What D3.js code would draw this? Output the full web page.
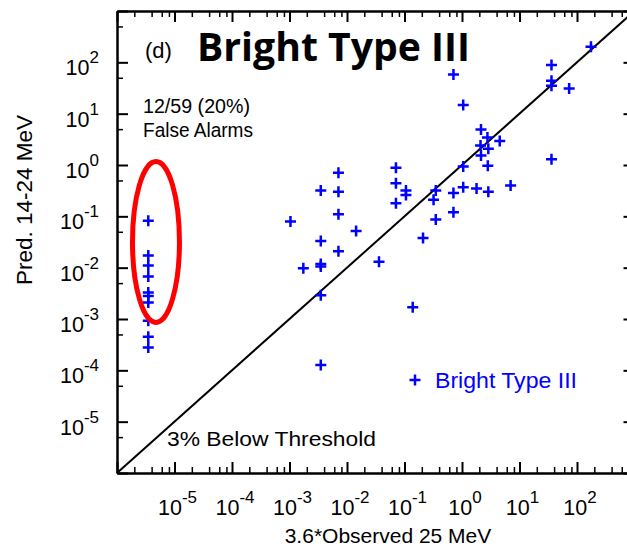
<!DOCTYPE html>
<html><head><meta charset="utf-8">
<script src="https://cdn.jsdelivr.net/npm/d3@7/dist/d3.min.js"></script>
<style>body{margin:0;background:#fff}svg{display:block}</style>
</head><body><svg id="c" width="627" height="550"></svg>
<script>
// ---- data ----
const seriesName = "Bright Type III";
const xTickExps = [-5, -4, -3, -2, -1, 0, 1, 2];
const yTickExps = [-5, -4, -3, -2, -1, 0, 1, 2];
// observed (x, scaled 3.6*Observed 25 MeV) and predicted (y, 14-24 MeV)
const obsX = [175, 36, 36, 36, 73, 0.71, 1.05, 2.14, 2.77, 2.10, 2.87, 4.53, 2.14, 2.81, 1.05, 36,
  1.05, 1.79, 2.87, 7.0, 0.71, 0.35, 0.32, 0.71, 0.35, 0.071, 0.071, 0.106, 0.106, 0.071,
  0.0071, 0.0071, 0.0035, 0.0071, 0.00104, 0.0144, 0.21, 0.0035, 0.0071, 0.00174, 0.0035,
  0.0035, 0.036, 0.0035, 0.139, 0.0035];
const predY = [202, 89, 44, 35, 31, 58, 14.8, 4.9, 3.44, 2.40, 2.07, 2.94, 1.53, 0.97, 0.93, 1.29,
  0.37, 0.35, 0.30, 0.40, 0.285, 0.32, 0.21, 0.12, 0.087, 0.88, 0.44, 0.32, 0.26, 0.18,
  0.71, 0.30, 0.32, 0.11, 0.079, 0.052, 0.038, 0.033, 0.021, 0.0097, 0.0118,
  0.0105, 0.0131, 0.0029, 0.0017, 0.000127];
// events with no observed enhancement (plotted at floor value)
const floorX = 3.5e-6;
const floorPredY = [0.082, 0.0173, 0.011, 0.0067, 0.0033, 0.0028, 0.0021, 0.00092, 0.00045, 0.00028];
// false-alarm ellipse bounds in data units [xmin, xmax, ymin, ymax]
const ellipseBounds = [1.86e-6, 1.22e-5, 8.55e-4, 1.17];
const diag = [1e-6, 1e3];

// ---- drawing ----
const svg = d3.select("#c");
const font = "'Liberation Sans', Arial, Helvetica, sans-serif";
const x = d3.scaleLog().domain([1e-6, 1e3]).range([117, 634.5]);
const y = d3.scaleLog().domain([1e-6, 1e3]).range([473, 11]);

const decades = d3.range(-6, 3);
const xMajor = d3.range(-6, 4).map(e => Math.pow(10, e));
const xMinor = [];
decades.forEach(e => [2, 4, 6, 8].forEach(m => xMinor.push(m * Math.pow(10, e))));
const yMinor = decades.map(e => 5 * Math.pow(10, e));

function styleAxis(g, w) {
  g.select(".domain").attr("stroke", "#000").attr("stroke-width", 2);
  g.selectAll(".tick line").attr("stroke", "#000").attr("stroke-width", w);
  g.selectAll(".tick text").remove();
}
const axes = [
  [d3.axisBottom, x, "translate(0,473)", xMajor, xMinor],
  [d3.axisTop, x, "translate(0,11)", xMajor, xMinor],
  [d3.axisLeft, y, "translate(117,0)", xMajor, yMinor],
  [d3.axisRight, y, "translate(634.5,0)", xMajor, yMinor]
];
axes.forEach(([fn, sc, tr, maj, min]) => {
  svg.append("g").attr("transform", tr)
    .call(fn(sc).tickValues(min).tickSizeInner(-6).tickSizeOuter(0).tickFormat(""))
    .call(g => styleAxis(g, 1.5));
  svg.append("g").attr("transform", tr)
    .call(fn(sc).tickValues(maj).tickSizeInner(-11).tickSizeOuter(0).tickFormat(""))
    .call(g => styleAxis(g, 2));
});

// tick labels 10^n
function powLabel(sel, e) {
  sel.append("tspan").text("10");
  sel.append("tspan").attr("dy", -12).attr("font-size", 17).text(String(e));
}
xTickExps.forEach(e => {
  svg.append("text").attr("x", x(Math.pow(10, e)) + 3).attr("y", 515)
    .attr("text-anchor", "middle").attr("font-family", font).attr("font-size", 21.5)
    .call(s => powLabel(s, e));
});
yTickExps.forEach(e => {
  svg.append("text").attr("x", 99).attr("y", y(Math.pow(10, e)) + 13)
    .attr("text-anchor", "end").attr("font-family", font).attr("font-size", 21.5)
    .call(s => powLabel(s, e));
});

// diagonal y = x
svg.append("line")
  .attr("x1", x(diag[0])).attr("y1", y(diag[0]))
  .attr("x2", x(diag[1])).attr("y2", y(diag[1]))
  .attr("stroke", "#000").attr("stroke-width", 2);

// points
const pts = obsX.map((v, i) => [v, predY[i]]).concat(floorPredY.map(v => [floorX, v]));
const plus = "M-5.5,0H5.5M0,-5.5V5.5";
svg.append("g").selectAll("path").data(pts).join("path")
  .attr("d", plus)
  .attr("transform", d => `translate(${x(d[0])},${y(d[1])})`)
  .attr("stroke", "#0000ff").attr("stroke-width", 2.5).attr("fill", "none");

// ellipse
const [ex0, ex1, ey0, ey1] = ellipseBounds;
svg.append("ellipse")
  .attr("cx", (x(ex0) + x(ex1)) / 2).attr("cy", (y(ey0) + y(ey1)) / 2)
  .attr("rx", (x(ex1) - x(ex0)) / 2).attr("ry", (y(ey0) - y(ey1)) / 2)
  .attr("fill", "none").attr("stroke", "#ff0000").attr("stroke-width", 5);

// texts
svg.append("text").attr("x", 145).attr("y", 58).attr("font-family", font).attr("font-size", 22).text("(d)");
svg.append("text").attr("x", 197).attr("y", 61).attr("font-family", "'Open Sans', sans-serif")
  .attr("font-weight", "bold").attr("font-size", 40).attr("textLength", 273)
  .attr("lengthAdjust", "spacingAndGlyphs").text("Bright Type III");
svg.append("text").attr("x", 143).attr("y", 113).attr("font-family", font).attr("font-size", 20.5)
  .attr("textLength", 107).attr("lengthAdjust", "spacingAndGlyphs").text("12/59 (20%)");
svg.append("text").attr("x", 143).attr("y", 137).attr("font-family", font).attr("font-size", 20.5)
  .attr("textLength", 110).attr("lengthAdjust", "spacingAndGlyphs").text("False Alarms");
svg.append("text").attr("x", 167).attr("y", 446).attr("font-family", font).attr("font-size", 21)
  .attr("textLength", 209).attr("lengthAdjust", "spacingAndGlyphs").text("3% Below Threshold");

// legend
svg.append("path").attr("d", plus).attr("transform", "translate(415,380)")
  .attr("stroke", "#0000ff").attr("stroke-width", 2.5);
svg.append("text").attr("x", 435).attr("y", 388).attr("font-family", font).attr("font-size", 22)
  .attr("textLength", 142).attr("lengthAdjust", "spacingAndGlyphs")
  .attr("fill", "#0000ff").text(seriesName);

// axis titles
svg.append("text").attr("transform", "translate(32,200) rotate(-90)").attr("text-anchor", "middle")
  .attr("font-family", font).attr("font-size", 22.5).text("Pred. 14-24 MeV");
svg.append("text").attr("x", 388).attr("y", 543).attr("text-anchor", "middle")
  .attr("font-family", font).attr("font-size", 21).text("3.6*Observed 25 MeV");
</script></body></html>
